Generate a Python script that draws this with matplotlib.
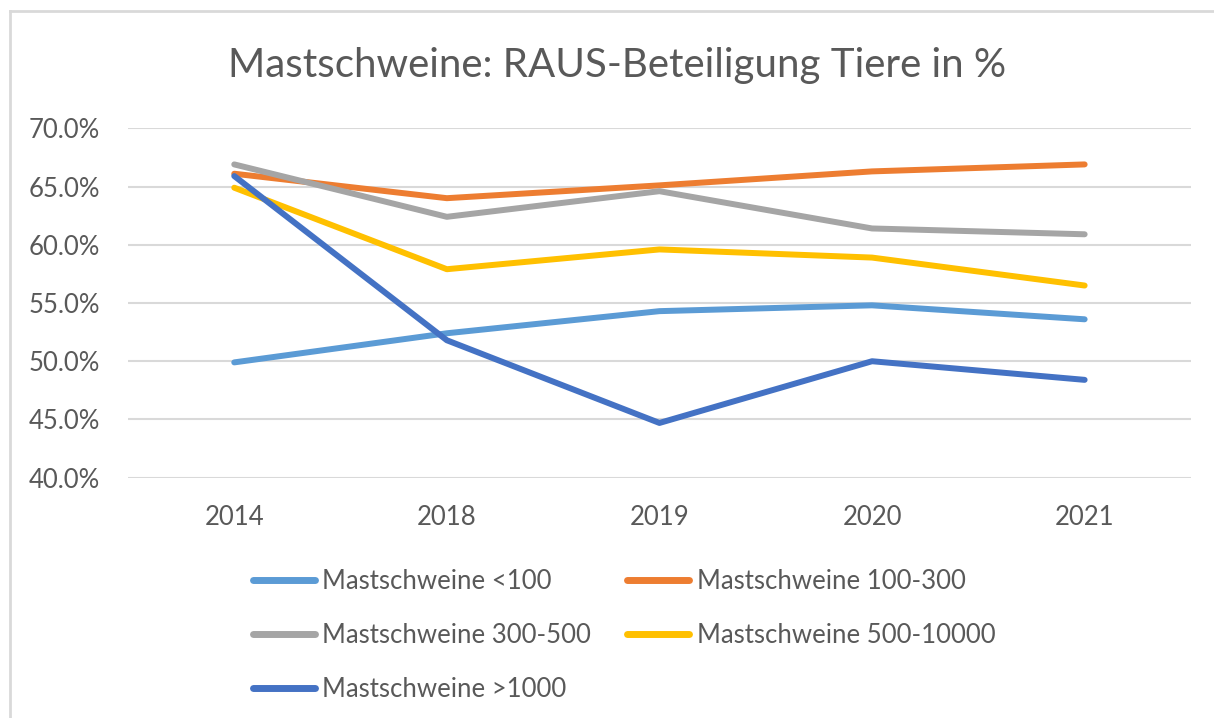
import numpy as np
import matplotlib.pyplot as plt
from matplotlib.lines import Line2D

years = ['2014', '2018', '2019', '2020', '2021']
lt100 = [49.9, 52.4, 54.3, 54.8, 53.6]
r100_300 = [66.1, 64.0, 65.1, 66.3, 66.9]
r300_500 = [66.9, 62.4, 64.6, 61.4, 60.9]
r500_10000 = [64.9, 57.9, 59.6, 58.9, 56.5]
gt1000 = [65.9, 51.8, 44.7, 50.0, 48.4]

series = [
    ('Mastschweine <100', lt100, '#5B9BD5'),
    ('Mastschweine 100-300', r100_300, '#ED7D31'),
    ('Mastschweine 300-500', r300_500, '#A5A5A5'),
    ('Mastschweine 500-10000', r500_10000, '#FFC000'),
    ('Mastschweine >1000', gt1000, '#4472C4'),
]

plt.rcParams['font.family'] = ['Lato', 'DejaVu Sans']
txt = '#595959'

fig = plt.figure(figsize=(12.14, 7.18), dpi=100)
ax = fig.add_axes([0.1054, 0.3347, 0.8756, 0.4866])

x = np.arange(len(years))
lines = {}
for name, vals, col in series:
    lines[name], = ax.plot(x, vals, color=col, linewidth=4.3, solid_capstyle='round',
                           solid_joinstyle='round', label=name)

ax.set_xlim(-0.5, len(years) - 0.5)
ax.set_ylim(40, 70)
ax.set_yticks(np.arange(40, 70.1, 5))
ax.set_yticklabels(['%.1f%%' % v for v in np.arange(40, 70.1, 5)])
ax.set_xticks(x)
ax.set_xticklabels(years)
ax.grid(axis='y', color='#D9D9D9', linewidth=1.5)
ax.set_axisbelow(True)
for s in ax.spines.values():
    s.set_visible(False)
ax.tick_params(length=0, labelsize=18.5, colors=txt)
ax.tick_params(axis='y', pad=20)
ax.tick_params(axis='x', pad=20)

fig.text(0.508, 0.909, 'Mastschweine: RAUS-Beteiligung Tiere in %', ha='center', va='center',
         fontsize=29, color=txt)

# row-wise order as in the original legend (2 columns)
order = ['Mastschweine <100', 'Mastschweine 300-500', 'Mastschweine >1000',
         'Mastschweine 100-300', 'Mastschweine 500-10000']
handles = [Line2D([0], [0], color=lines[n].get_color(), linewidth=5, solid_capstyle='round') for n in order]
leg = fig.legend(handles, order, ncol=2, loc='upper left', bbox_to_anchor=(0.2084, 0.2075),
                 frameon=False, fontsize=18.5, handlelength=2.4, handletextpad=0.3,
                 columnspacing=1.4, labelspacing=1.13, borderpad=0, borderaxespad=0)
for t in leg.get_texts():
    t.set_color(txt)

# chart frame (left and top edge only, as in the screenshot)
fig.add_artist(Line2D([10 / 1214, 10 / 1214], [0, 1 - 11 / 718], transform=fig.transFigure,
                      color='#D9D9D9', linewidth=2))
fig.add_artist(Line2D([10 / 1214, 1], [1 - 11 / 718, 1 - 11 / 718], transform=fig.transFigure,
                      color='#D9D9D9', linewidth=2))

fig.savefig('out.png', dpi=100)
